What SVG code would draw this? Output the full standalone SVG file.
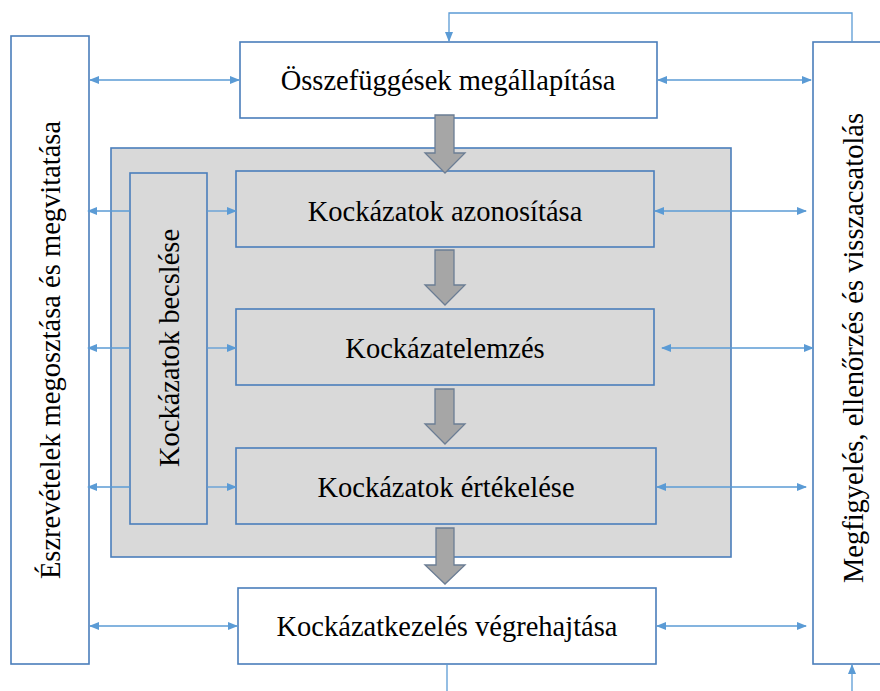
<svg xmlns="http://www.w3.org/2000/svg" width="880" height="691" viewBox="0 0 880 691">
<style>
.box{fill:#ffffff;stroke:#4a7ebb;stroke-width:1.6}
.gbox{fill:#d9d9d9;stroke:#4a7ebb;stroke-width:1.6}
.t{font-size:28.5px;fill:#000;text-anchor:middle}
.c{fill:none;stroke:#5b9bd5;stroke-width:1.3}
.big{fill:#a6a6a6;stroke:#6b7d94;stroke-width:1.3}
</style>
<defs>
<marker id="ah" markerWidth="10" markerHeight="8" refX="9" refY="4" orient="auto-start-reverse" markerUnits="userSpaceOnUse">
<path d="M0,0 L10,4 L0,8 Z" fill="#5b9bd5"/>
</marker>
</defs>
<rect width="880" height="691" fill="#ffffff"/>
<g font-family="Liberation Serif, Times New Roman, DejaVu Serif, serif">
<g id="outer-left"><rect class="box" x="11" y="36" width="78" height="628"/>
<text class="t" transform="translate(60,350) rotate(-90)">Észrevételek megosztása és megvitatása</text></g>
<g id="outer-right"><rect class="box" x="813" y="42" width="80" height="622"/>
<text class="t" transform="translate(863,348) rotate(-90)">Megfigyelés, ellenőrzés és visszacsatolás</text></g>
<g id="gray-panel"><rect class="gbox" x="111" y="148" width="620" height="409"/></g>
<g id="becsles"><rect class="gbox" x="130" y="173" width="77" height="351"/>
<text class="t" transform="translate(179,348) rotate(-90)">Kockázatok becslése</text></g>
<g id="osszefuggesek"><rect class="box" x="240" y="42" width="417" height="76"/>
<text class="t" x="448" y="90">Összefüggések megállapítása</text></g>
<g id="azonositas"><rect class="gbox" x="236" y="171" width="418" height="76"/>
<text class="t" x="445" y="221">Kockázatok azonosítása</text></g>
<g id="elemzes"><rect class="gbox" x="236" y="309" width="418" height="76"/>
<text class="t" x="445" y="358">Kockázatelemzés</text></g>
<g id="ertekeles"><rect class="gbox" x="236" y="448" width="420" height="76"/>
<text class="t" x="446" y="497">Kockázatok értékelése</text></g>
<g id="kezeles"><rect class="box" x="238" y="588" width="418" height="76"/>
<text class="t" x="447" y="636">Kockázatkezelés végrehajtása</text></g>
</g>
<g id="connectors">
<path class="big" d="M435,115 H454 V153 H465 L445,173 L425,153 H435 Z"/>
<path class="big" d="M435,250 H454 V285 H465 L445,305 L425,285 H435 Z"/>
<path class="big" d="M435,389 H454 V424 H465 L445,444 L425,424 H435 Z"/>
<path class="big" d="M436,528 H454 V565 H465 L445,584 L425,565 H436 Z"/>
<line class="c" x1="90" y1="80" x2="239" y2="80" marker-start="url(#ah)" marker-end="url(#ah)"/>
<line class="c" x1="658" y1="80" x2="811" y2="80" marker-start="url(#ah)" marker-end="url(#ah)"/>
<line class="c" x1="130" y1="211" x2="88" y2="211" marker-end="url(#ah)"/>
<line class="c" x1="207" y1="211" x2="236" y2="211" marker-end="url(#ah)"/>
<line class="c" x1="130" y1="348" x2="88" y2="348" marker-end="url(#ah)"/>
<line class="c" x1="207" y1="348" x2="236" y2="348" marker-end="url(#ah)"/>
<line class="c" x1="130" y1="487" x2="88" y2="487" marker-end="url(#ah)"/>
<line class="c" x1="207" y1="487" x2="236" y2="487" marker-end="url(#ah)"/>
<line class="c" x1="90" y1="626" x2="237" y2="626" marker-start="url(#ah)" marker-end="url(#ah)"/>
<line class="c" x1="655" y1="211" x2="806" y2="211" marker-start="url(#ah)" marker-end="url(#ah)"/>
<line class="c" x1="662" y1="348" x2="813" y2="348" marker-start="url(#ah)" marker-end="url(#ah)"/>
<line class="c" x1="657" y1="487" x2="806" y2="487" marker-start="url(#ah)" marker-end="url(#ah)"/>
<line class="c" x1="657" y1="626" x2="806" y2="626" marker-start="url(#ah)" marker-end="url(#ah)"/>
<polyline class="c" points="852,42 852,13 449,13 449,41" marker-end="url(#ah)"/>
<line class="c" x1="447" y1="664" x2="447" y2="691"/>
<line class="c" x1="852" y1="691" x2="852" y2="665" marker-end="url(#ah)"/>
</g>
</svg>
